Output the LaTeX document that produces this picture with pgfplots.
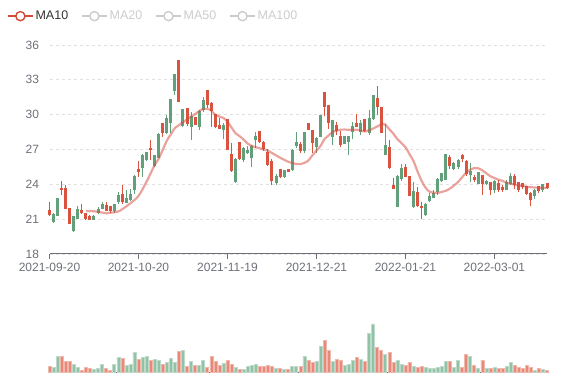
\documentclass[border=0pt]{standalone}
\usepackage{fontspec}
\setmainfont{Liberation Sans}
\usepackage{pgfplots}
\usepackage{pgfplotstable}
\pgfplotsset{compat=1.18}
\definecolor{upG}{RGB}{98,160,124}
\definecolor{dnR}{RGB}{217,83,62}
\definecolor{volG}{RGB}{146,194,166}
\definecolor{volR}{RGB}{232,136,120}
\definecolor{maRed}{RGB}{214,72,58}
\definecolor{axgray}{RGB}{110,112,121}
\definecolor{gridc}{RGB}{224,224,224}
\definecolor{legtxt}{RGB}{51,51,51}
\definecolor{legoff}{RGB}{204,204,204}

\pgfplotstableread{
i lo hi bl bt v
1 20.69 21.54 20.77 21.43 5
2 21.26 22.83 21.31 22.74 16.3
6 19.91 21.26 19.97 21.2 7.7
7 21.0 22.1 21.05 21.8 5
11 20.95 21.35 20.97 21.26 3
12 21.45 22.06 21.49 21.86 3.7
13 21.85 22.49 21.91 22.26 8
16 21.54 22.34 21.69 22.26 7.7
17 22.34 23.34 22.46 23.03 15
19 22.4 23.49 22.4 22.77 6.7
20 22.57 23.63 22.65 23.14 7.7
21 23.2 24.77 23.54 24.71 20.3
23 24.63 26.57 25.43 26.49 14.7
24 26.05 26.82 26.1 26.75 16
26 25.47 26.53 25.55 26.45 13.3
27 26.25 28.4 26.3 28.3 12.3
29 28.34 29.98 28.4 29.7 9.7
30 28.4 31.33 29.32 31.28 14.3
31 31.71 33.43 32.0 33.43 10.3
33 28.92 30.47 29.03 30.41 22.3
35 27.83 30.27 28.92 29.84 10.7
37 28.69 30.36 28.98 30.27 7.3
38 30.27 31.56 30.41 31.19 11.7
43 27.88 29.26 28.69 29.03 9
46 24.15 26.25 24.24 26.1 5
48 25.96 27.25 26.1 27.1 3.3
49 26.6 27.3 26.66 26.94 5.7
50 25.46 27.4 26.23 27.23 7
51 27.1 28.5 27.8 28.09 8.3
56 23.94 24.9 24.09 24.66 3.7
58 24.51 25.23 24.66 25.17 3.3
60 25.17 27.0 25.23 26.94 5.7
61 27.09 28.51 27.29 27.6 6.3
63 26.71 28.46 26.89 28.43 16.3
66 26.71 28.09 27.23 27.94 11.3
67 28.09 29.94 28.09 29.94 26.3
70 27.37 29.51 28.09 29.51 10.7
73 27.46 28.2 27.5 28.1 7
74 26.5 28.14 27.66 28.09 7.7
75 27.94 29.37 28.51 28.94 12.3
77 28.23 29.57 28.51 29.23 13.3
79 28.23 30.37 28.43 29.66 38.7
80 29.51 31.66 29.66 31.66 48.3
83 26.51 29.23 26.51 27.37 18.3
86 22.09 24.8 22.09 24.71 12.3
87 24.29 25.71 24.43 25.37 8
90 21.94 24.23 22.03 23.37 6.3
93 21.29 22.37 21.37 22.23 4.7
94 22.51 23.29 22.6 22.94 4.3
95 22.8 23.51 22.86 23.23 4.3
96 23.09 24.51 23.37 24.37 5
97 24.2 25.0 24.25 24.95 5.7
98 24.34 26.57 24.34 26.57 11.3
100 25.2 25.91 25.34 25.77 5.3
101 25.34 26.2 25.48 26.06 11.7
104 24.2 25.83 24.77 25.14 16.3
106 24.0 25.06 24.06 24.97 4.3
108 23.91 24.4 24.0 24.2 3.7
110 23.26 24.34 23.49 24.2 5
113 23.49 24.34 23.54 24.11 6.3
114 23.91 24.97 24.06 24.69 10.3
120 22.77 23.63 22.97 23.49 2.3
122 23.34 24.06 23.49 24.0 3.3
}\greentab

\pgfplotstableread{
i lo hi bl bt v
0 21.26 22.5 21.34 21.77 6.3
3 23.09 24.31 23.5 23.62 15.7
4 21.86 23.91 21.86 23.63 10.7
5 20.57 21.94 20.6 21.91 11
8 21.46 22.3 21.49 21.77 2.3
9 20.97 21.55 21.0 21.49 5
10 20.95 21.4 20.97 21.2 4.3
14 21.69 22.46 21.71 22.2 4
15 21.54 22.14 21.71 22.06 2.3
18 22.34 23.97 22.49 23.14 13.7
22 24.63 26.0 25.1 25.3 13.3
25 26.1 27.83 26.95 27.08 12.3
28 28.06 29.32 28.46 29.2 8
32 31.05 34.72 31.05 34.67 21
34 29.03 30.61 29.2 30.56 6.3
36 29.12 29.72 29.12 29.72 7.3
39 30.56 32.08 30.84 32.08 5
40 28.98 31.05 30.33 30.99 16.3
41 28.83 30.07 28.92 29.98 11.3
42 28.78 29.7 28.78 29.03 6.7
44 26.97 29.61 26.97 29.55 12.3
45 25.05 27.6 25.15 26.55 8
47 26.1 27.66 26.15 27.6 3
52 27.57 28.6 27.66 28.51 5.7
53 26.9 27.7 27.0 27.6 5.7
54 25.55 27.0 25.65 26.7 7.3
55 23.94 26.2 24.3 26.0 5.7
57 24.51 25.29 24.6 25.23 4.3
59 25.06 25.29 25.1 25.25 3.3
62 26.71 27.66 26.89 27.46 6.3
64 28.66 29.29 28.71 29.23 11.7
65 26.71 28.71 27.57 28.66 10.3
68 29.86 31.94 30.66 31.94 32.3
69 28.8 30.8 29.29 30.8 22.3
71 28.23 29.37 28.6 29.09 13
72 27.2 28.6 27.37 28.09 12
76 28.94 30.09 28.94 29.23 15
78 28.51 29.66 28.6 29.57 10.7
81 29.94 32.51 30.66 31.37 24.7
82 28.43 30.66 28.43 30.6 22.3
84 25.29 27.8 25.37 27.17 19.7
85 23.57 24.51 23.63 23.86 10.3
88 24.66 25.71 24.66 25.46 7
89 23.0 24.66 23.0 24.66 10
91 22.09 23.8 22.14 23.29 4.7
92 21.0 22.51 21.94 22.09 6.3
99 25.34 26.49 25.54 26.34 10.7
102 25.91 26.63 26.2 26.49 5.3
103 24.69 26.06 24.91 26.0 18.3
105 24.2 24.77 24.34 24.54 7
107 23.06 24.77 24.0 24.77 12.3
109 23.06 24.2 23.49 24.11 4.3
111 23.34 24.34 23.54 24.06 3.7
112 23.34 23.91 23.49 23.71 4.3
115 23.63 24.91 23.91 24.63 7
116 23.34 24.2 23.54 24.11 5.3
117 23.63 24.11 23.77 24.06 3.7
118 23.06 23.83 23.2 23.77 7
119 22.11 23.34 22.63 23.2 5.3
121 23.26 23.83 23.43 23.77 3.7
123 23.63 24.11 23.71 24.06 2
}\redtab

\pgfplotstableread{
i ma
9 21.71
11 21.68
13 21.57
14 21.51
16 21.6
17 21.66
18 21.86
20 22.37
22 23.0
24 24.23
26 25.66
27 26.2
29 27.75
30 28.3
31 28.85
32 29.1
34 29.6
36 30.05
37 30.3
38 30.5
39 30.5
40 30.35
41 29.98
42 29.84
43 29.72
44 29.4
45 28.9
46 28.4
47 28.15
48 27.85
49 27.5
50 27.3
52 27.1
54 26.9
55 26.7
57 26.3
59 25.95
61 25.75
62 25.74
63 25.85
64 26.05
65 26.5
66 26.9
67 27.3
68 27.9
69 28.2
70 28.5
72 28.71
74 28.7
76 28.7
78 28.55
79 28.66
80 28.8
82 29.15
83 29.15
84 28.75
85 28.37
86 27.9
88 27.2
89 26.6
90 26.0
91 25.1
92 24.3
93 23.7
94 23.35
95 23.28
96 23.26
97 23.35
98 23.45
99 23.63
100 23.9
101 24.2
102 24.6
103 25.0
104 25.25
105 25.4
106 25.38
107 25.2
108 24.95
109 24.7
111 24.4
112 24.3
113 24.15
114 24.05
116 23.91
118 23.8
120 23.72
123 23.71
}\matab

\pgfplotsset{
  candle/.style n args={2}{only marks, mark=*, mark size=0.01pt,
    mark options={draw opacity=0, fill opacity=0}, forget plot,
    error bars/.cd, y dir=plus, y explicit, error mark=none,
    error bar style={#1, line width=#2, line cap=butt}},
  legimg/.style={legend image code/.code={%
    \draw[#1, line width=1.4pt] (0pt,0pt)--(25pt,0pt);
    \draw[#1, line width=1.4pt, fill=white] (12.5pt,0pt) circle (4.6pt);}},
}

\begin{document}
\begin{tikzpicture}[x=1pt,y=1pt]
\useasboundingbox (0,0) rectangle (577,380);
\begin{axis}[
  at={(49.5pt,126pt)}, anchor=south west,
  scale only axis, width=497.5pt, height=209pt,
  xmin=0, xmax=123, ymin=18, ymax=36,
  axis x line*=bottom, axis y line*=left,
  y axis line style={draw=none},
  x axis line style={draw=axgray, line width=1pt, -},
  ytick={18,21,24,27,30,33,36},
  yticklabels={18,21,24,27,30,33,36},
  xtick={0,22,44,66,88,110},
  xticklabels={2021-09-20,2021-10-20,2021-11-19,2021-12-21,2022-01-21,2022-03-01},
  ytick style={draw=none},
  xtick style={draw=axgray, line width=1pt},
  tick align=outside, major tick length=5pt,
  ymajorgrids, grid style={dashed, gridc, line width=0.8pt},
  tick label style={font=\fontsize{12}{14}\selectfont, text=axgray},
  yticklabel style={xshift=-2pt},
  xticklabel style={yshift=-1pt},
  clip=false,
  legend columns=4,
  legend style={at={(-0.0855,1.173)}, anchor=north west, draw=none, fill=none,
    font=\fontsize{12.5}{14}\selectfont, inner sep=0pt,
    /tikz/every even column/.append style={column sep=11pt}},
  legend cell align=left,
]
% wicks
\addplot[candle={upG}{1pt}]
  table[x=i, y=lo, y error plus expr=\thisrow{hi}-\thisrow{lo}] {\greentab};
\addplot[candle={dnR}{1pt}]
  table[x=i, y=lo, y error plus expr=\thisrow{hi}-\thisrow{lo}] {\redtab};
% bodies
\addplot[candle={upG}{3pt}]
  table[x=i, y=bl, y error plus expr=\thisrow{bt}-\thisrow{bl}+0.05] {\greentab};
\addplot[candle={dnR}{3pt}]
  table[x=i, y=bl, y error plus expr=\thisrow{bt}-\thisrow{bl}+0.05] {\redtab};
% MA10
\addplot[smooth, maRed, opacity=0.5, line width=2.2pt, forget plot] table[x=i, y=ma] {\matab};
% legend
\addlegendimage{legimg=maRed}
\addlegendentry{\textcolor{legtxt}{MA10}}
\addlegendimage{legimg=legoff}
\addlegendentry{\textcolor{legoff}{MA20}}
\addlegendimage{legimg=legoff}
\addlegendentry{\textcolor{legoff}{MA50}}
\addlegendimage{legimg=legoff}
\addlegendentry{\textcolor{legoff}{MA100}}
\end{axis}

\begin{axis}[
  at={(49.5pt,7.7pt)}, anchor=south west,
  scale only axis, width=497.5pt, height=60pt,
  xmin=0, xmax=123, ymin=0, ymax=60,
  axis x line*=bottom, axis y line=none,
  x axis line style={draw=axgray, line width=1pt, -},
  xtick=\empty, ytick=\empty,
  clip=false,
]
\addplot[ybar, bar width=3pt, fill=volG, draw=volG!60!white, line width=0.5pt] table[x=i, y=v] {\greentab};
\addplot[ybar, bar width=3pt, fill=volR, draw=volR!60!white, line width=0.5pt] table[x=i, y=v] {\redtab};
\end{axis}
\end{tikzpicture}
\end{document}
